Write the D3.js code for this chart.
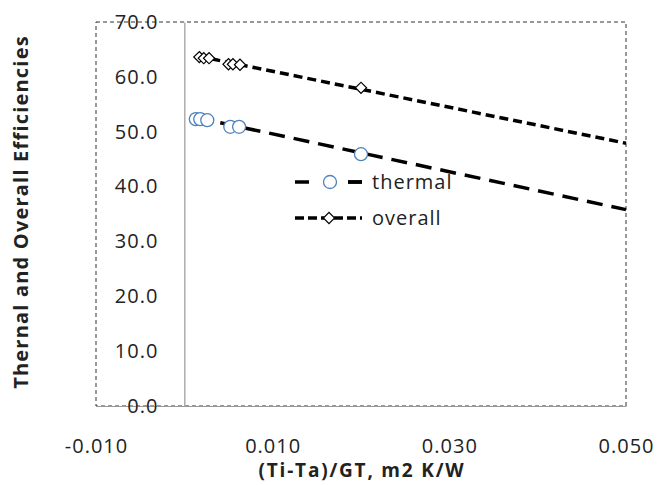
<!DOCTYPE html>
<html>
<head>
<meta charset="utf-8">
<script src="https://cdn.jsdelivr.net/npm/d3@7"></script>
<style>
  body { margin: 0; background: #fff; }
  text { font-family: "Open Sans", sans-serif; fill: #222; }
</style>
</head>
<body>
<script>
//Data
    const thermalX = [0.0013, 0.0018, 0.0026, 0.0052, 0.0062, 0.0200];
    const thermalY = [52.3, 52.3, 52.1, 50.9, 50.9, 45.9];
    const overallX = [0.0017, 0.0022, 0.0028, 0.0050, 0.0055, 0.0063, 0.0200];
    const overallY = [63.6, 63.4, 63.4, 62.3, 62.3, 62.2, 58.0];
    //trend lines (start, end)
    const thermalFit = [[0.0013, 52.6], [0.05, 35.8]];
    const overallFit = [[0.0015, 63.8], [0.05, 47.9]];
    const xTicks = [-0.01, 0.01, 0.03, 0.05];
    const yTicks = [0, 10, 20, 30, 40, 50, 60, 70];
    const seriesNames = ["thermal", "overall"];

//Set up dimensions
    const width = 657;
    const height = 485;
    const plotLeft = 96, plotRight = 626, plotTop = 22, plotBottom = 406;

//Scales
    const xScale = d3.scaleLinear().domain([-0.01, 0.05]).range([plotLeft, plotRight]);
    const yScale = d3.scaleLinear().domain([0, 70]).range([plotBottom, plotTop]);

//Make the SVG
    const svg = d3.select("body")
                .append("svg")
                .attr("width", width)
                .attr("height", height);

//Plot border
    svg.append("rect")
        .attr("x", plotLeft)
        .attr("y", plotTop)
        .attr("width", plotRight - plotLeft)
        .attr("height", plotBottom - plotTop)
        .attr("fill", "none")
        .attr("stroke", "#333")
        .attr("stroke-width", 1)
        .attr("stroke-dasharray", "4,3");

//Axes (plain hyphen for negatives, like the original)
    const xFormat = d => d3.format(".3f")(d).replace("\u2212", "-");

    svg.append("g")
        .attr("transform", "translate(0," + yScale(0) + ")")
        .call(d3.axisBottom(xScale).tickValues(xTicks).tickFormat(xFormat)
              .tickSize(0).tickPadding(33));

    svg.append("g")
        .attr("transform", "translate(" + xScale(0) + ",0)")
        .call(d3.axisLeft(yScale).tickValues(yTicks).tickFormat(d3.format(".1f"))
              .tickSize(0).tickPadding(26));

    svg.selectAll(".domain").attr("stroke", "#999").attr("stroke-width", 1.2);
    svg.selectAll(".tick text")
        .style("font-family", "'Open Sans', sans-serif")
        .style("font-size", "20px")
        .style("letter-spacing", "1px")
        .attr("fill", "#222");

//Axis titles
    svg.append("text")
        .attr("x", 362)
        .attr("y", 477)
        .attr("text-anchor", "middle")
        .style("font-size", "19px")
        .style("font-weight", "bold")
        .style("letter-spacing", "1.8px")
        .text("(Ti-Ta)/GT, m2 K/W");

    svg.append("text")
        .attr("transform", "translate(28,212) rotate(-90)")
        .attr("text-anchor", "middle")
        .style("font-size", "20px")
        .style("font-weight", "bold")
        .style("letter-spacing", "1.2px")
        .text("Thernal and Overall Efficiencies");

//Trend lines
    const line = d3.line().x(d => xScale(d[0])).y(d => yScale(d[1]));

    svg.append("path")
        .attr("d", line(thermalFit))
        .attr("fill", "none")
        .attr("stroke", "#000")
        .attr("stroke-width", 3.5)
        .attr("stroke-dasharray", "16,9");

    svg.append("path")
        .attr("d", line(overallFit))
        .attr("fill", "none")
        .attr("stroke", "#000")
        .attr("stroke-width", 3.5)
        .attr("stroke-dasharray", "9,5");

//Markers
    const diamond = d3.symbol().type(d3.symbolSquare).size(62);

    svg.selectAll(".overall")
        .data(overallX)
        .enter()
        .append("path")
        .attr("class", "overall")
        .attr("d", diamond)
        .attr("transform", (d, i) => "translate(" + xScale(d) + "," + yScale(overallY[i]) + ") rotate(45)")
        .attr("fill", "#fff")
        .attr("stroke", "#000")
        .attr("stroke-width", 1.2);

    svg.selectAll(".thermal")
        .data(thermalX)
        .enter()
        .append("circle")
        .attr("class", "thermal")
        .attr("cx", d => xScale(d))
        .attr("cy", (d, i) => yScale(thermalY[i]))
        .attr("r", 6.5)
        .attr("fill", "#fff")
        .attr("stroke", "#4f81bd")
        .attr("stroke-width", 1.3);

//Legend
    const legend = svg.append("g");

    legend.append("line")
        .attr("x1", 295).attr("x2", 362)
        .attr("y1", 182).attr("y2", 182)
        .attr("stroke", "#000")
        .attr("stroke-width", 3.5)
        .attr("stroke-dasharray", "14,39");
    legend.append("line")
        .attr("x1", 348).attr("x2", 362)
        .attr("y1", 182).attr("y2", 182)
        .attr("stroke", "#000")
        .attr("stroke-width", 3.5);
    legend.append("circle")
        .attr("cx", 330).attr("cy", 182).attr("r", 6.5)
        .attr("fill", "#fff")
        .attr("stroke", "#4f81bd")
        .attr("stroke-width", 1.3);

    legend.append("line")
        .attr("x1", 295).attr("x2", 362)
        .attr("y1", 218).attr("y2", 218)
        .attr("stroke", "#000")
        .attr("stroke-width", 3.5)
        .attr("stroke-dasharray", "9,4");
    legend.append("path")
        .attr("d", diamond)
        .attr("transform", "translate(329,218) rotate(45)")
        .attr("fill", "#fff")
        .attr("stroke", "#000")
        .attr("stroke-width", 1.2);

    legend.selectAll(".legend-text")
        .data(seriesNames)
        .enter()
        .append("text")
        .attr("class", "legend-text")
        .attr("x", 372)
        .attr("y", (d, i) => 182 + i * 36)
        .attr("dy", "0.35em")
        .style("font-size", "20px")
        .style("letter-spacing", "1px")
        .text(d => d);
</script>
</body>
</html>
